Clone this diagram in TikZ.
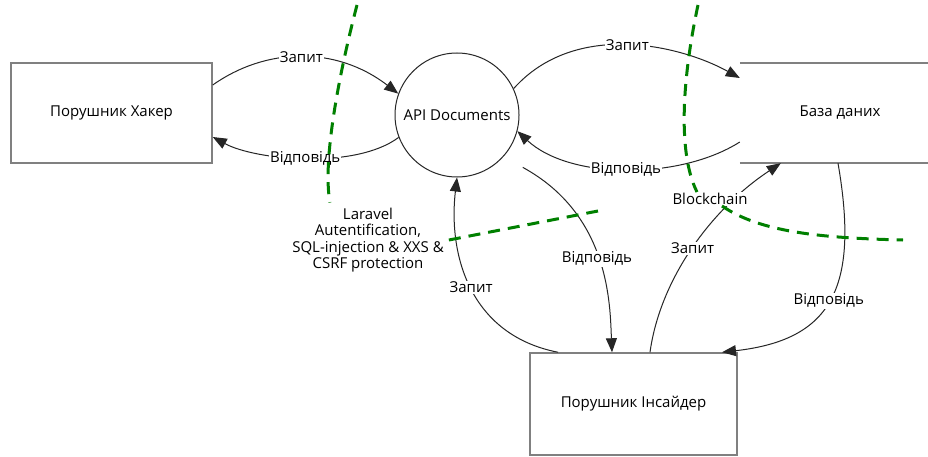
\documentclass[tikz,border=0pt]{standalone}
\usepackage{fontspec}
\setmainfont{Open Sans}
\usetikzlibrary{arrows.meta}
\definecolor{dfdgreen}{HTML}{008000}
\definecolor{dfdgray}{HTML}{808080}

\begin{document}
\begin{tikzpicture}[x=1pt,y=-1pt,
  every node/.style={font=\fontsize{15}{16.5}\selectfont},
  actor/.style={draw=dfdgray,line width=1.5pt,minimum width=201pt,minimum height=100pt},
  process/.style={circle,draw=black!85,line width=1pt,minimum size=124pt,inner sep=0pt},
  store/.style={draw=dfdgray,line width=1.5pt},
  flow/.style={draw=black!85,line width=1pt,-{Triangle[length=14pt,width=11pt]}},
  lbl/.style={fill=white,inner sep=1pt},
  guard/.style={draw=dfdgreen,line width=3pt,dash pattern=on 12pt off 8pt}]
  \useasboundingbox (0,0) rectangle (928,457);
  \fill[white] (0,0) rectangle (928,457);

  \node[actor] (hacker) at (111.5,113) {Порушник Хакер};
  \node[process] (api) at (457,115) {API Documents};
  \node[minimum width=200pt,minimum height=100pt] (db) at (840,113) {База даних};
  \node[actor,minimum width=207pt,minimum height=102pt] (insider) at (633.5,404) {Порушник Інсайдер};
  \draw[store] (db.north west) -- (db.north east);
  \draw[store] (db.south west) -- (db.south east);

  \draw[flow] ([yshift=28pt]hacker.east) .. controls (265,48) and (335,45) .. node[lbl]{Запит} (api.160);
  \draw[flow] (api.201) .. controls (355,170) and (255,160) .. node[lbl]{Відповідь} ([yshift=-24pt]hacker.east);
  \draw[flow] (api.25) .. controls (575,20) and (680,45) .. node[lbl]{Запит} ([yshift=35pt]db.west);
  \draw[flow] ([yshift=-29pt]db.west) .. controls (680,180) and (570,180) .. node[lbl]{Відповідь} (api.-15);
  \draw[flow,shorten <=22pt] (api.-42) .. controls (610,215) and (610,305) .. node[lbl]{Відповідь} ([xshift=-21.5pt]insider.north);
  \draw[flow] ([xshift=-75.5pt]insider.north) .. controls (470,335) and (448,255) .. node[lbl]{Запит} (api.south);
  \draw[flow] ([xshift=16.5pt]insider.north) .. controls (660,280) and (710,210) .. node[lbl]{Запит} ([xshift=41pt]db.south west);
  \draw[flow] ([xshift=-2pt]db.south) .. controls (860,290) and (830,340) .. node[lbl]{Відповідь} ([xshift=88.5pt]insider.north);

  \node[align=center,inner sep=3pt] (laravel) at (368,240) {Laravel\\Autentification,\\SQL-injection \& XXS \&\\CSRF protection};
  \node[lbl] (chain) at (710,199) {Blockchain};

  \coordinate (ga) at (357,5);
  \coordinate (gb) at (598,211);
  \coordinate (gc) at (698,5);
  \coordinate (gd) at (903,240);
  \draw[guard] (ga) .. controls (340,70) and (322,160) .. ([xshift=-38pt,yshift=2pt]laravel.north);
  \draw[guard] ([xshift=2pt]laravel.east) -- (gb);
  \draw[guard] (gc) .. controls (684,70) and (676,150) .. ([xshift=-13pt]chain.north);
  \draw[guard] ([xshift=12pt]chain.south) .. controls (760,232) and (820,238) .. (gd);
\end{tikzpicture}
\end{document}
